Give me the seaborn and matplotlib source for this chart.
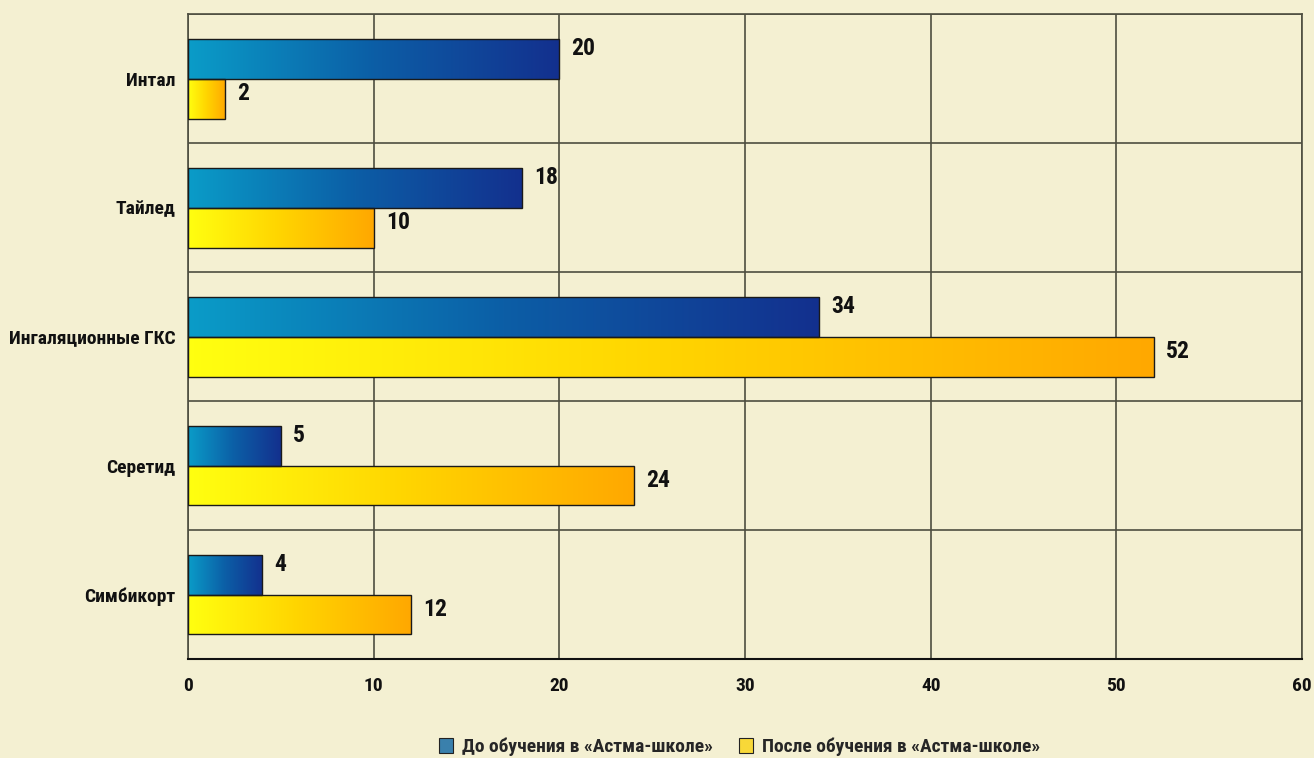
import numpy as np
import pandas as pd
import matplotlib
matplotlib.use("Agg")
import matplotlib.pyplot as plt
import matplotlib.transforms as mtransforms
from matplotlib import font_manager as fm
import seaborn as sns
from matplotlib.colors import LinearSegmentedColormap
from matplotlib.patches import Patch

categories = ["Интал", "Тайлед", "Ингаляционные ГКС", "Серетид", "Симбикорт"]
before = [20, 18, 34, 5, 4]
after = [2, 10, 52, 24, 12]
series_names = ["До обучения в «Астма-школе»", "После обучения в «Астма-школе»"]
x_ticks = [0, 10, 20, 30, 40, 50, 60]

BG = "#f4f0d2"
GRID = "#4e4e40"

# pick a condensed bold font if one is installed
cond_path = None
for pref in ["Liberation Sans Narrow", "Roboto Condensed", "DejaVu Sans"]:
    for f in fm.fontManager.ttflist:
        if f.name == pref and f.weight in ("bold", 700) and (
                "ondensed" in f.fname or "Narrow" in f.fname or "Condensed" in str(f.stretch) or f.stretch == "condensed"):
            cond_path = f.fname
            break
    if cond_path:
        break

def fp(size):
    if cond_path:
        return fm.FontProperties(fname=cond_path, size=size)
    return fm.FontProperties(family="DejaVu Sans", weight="bold", stretch="condensed", size=size)

sns.set_theme(style="white")
plt.rcParams["font.family"] = ["DejaVu Sans"]
plt.rcParams["font.weight"] = "bold"

df = pd.DataFrame({
    "cat": categories * 2,
    "val": before + after,
    "period": [series_names[0]] * len(categories) + [series_names[1]] * len(categories),
})

fig = plt.figure(figsize=(13.14, 7.58), dpi=100, facecolor=BG)
ax = fig.add_axes([0.1431, 0.1306, 0.9909 - 0.1431, 0.9815 - 0.1306])
ax.set_facecolor(BG)

sns.barplot(data=df, y="cat", x="val", hue="period", orient="h",
            width=0.62, gap=0, dodge=True, ax=ax, legend=False,
            palette=["#2f6fa8", "#f8d020"], edgecolor="#1a1a1a", linewidth=1.0,
            saturation=1)

cmaps = [
    LinearSegmentedColormap.from_list("blue", ["#0a9cc8", "#0c5ea6", "#13308e"]),
    LinearSegmentedColormap.from_list("yellow", ["#ffff10", "#ffd400", "#ffa800"]),
]
grad = np.linspace(0, 1, 256).reshape(1, -1)
offset = mtransforms.ScaledTranslation(12 / 100, 0, fig.dpi_scale_trans)
for ci, cont in enumerate(ax.containers):
    for bar in cont:
        x0, y0 = bar.get_x(), bar.get_y()
        w, h = bar.get_width(), bar.get_height()
        im = ax.imshow(grad, extent=[x0, x0 + w, y0 + h, y0], aspect="auto",
                       cmap=cmaps[ci], zorder=2, interpolation="bilinear")
        im.set_clip_path(bar)
        bar.set_facecolor("none")
        bar.set_zorder(3)
        ax.text(x0 + w, y0 + (-0.01 if ci == 0 else 0.03), f"{int(w)}",
                ha="left", va="top", fontproperties=fp(17),
                color="#111111", zorder=5, transform=ax.transData + offset)

ax.set_xlim(0, 60)
ax.set_ylim(len(categories) - 0.5, -0.5)
ax.set_xticks(x_ticks)
ax.set_xticklabels([str(v) for v in x_ticks])
ax.set_yticks(range(len(categories)))
ax.set_yticklabels(categories)
for lbl in ax.get_xticklabels() + ax.get_yticklabels():
    lbl.set_fontproperties(fp(14))
ax.set_yticks(np.arange(-0.5, len(categories), 1.0), minor=True)
ax.set_xlabel("")
ax.set_ylabel("")

ax.set_axisbelow(True)
ax.grid(axis="x", which="major", color=GRID, linewidth=1.2)
ax.grid(axis="y", which="minor", color=GRID, linewidth=1.2)
ax.grid(axis="y", which="major", visible=False)
ax.tick_params(axis="x", which="major", length=8, width=1.2, color=GRID, pad=5, labelcolor="#111111")
ax.tick_params(axis="y", which="both", length=0, pad=9, labelcolor="#111111")
for s in ax.spines.values():
    s.set_color(GRID)
    s.set_linewidth(1.2)
ax.spines["bottom"].set_color("#111111")
ax.spines["bottom"].set_linewidth(1.5)

handles = [Patch(facecolor="#3a80ac", edgecolor="#222222", linewidth=0.8),
           Patch(facecolor="#f8d838", edgecolor="#222222", linewidth=0.8)]
fig.legend(handles, series_names, loc="center", bbox_to_anchor=(0.563, 0.0145),
           ncol=2, frameon=False, prop=fp(14),
           handlelength=0.72, handleheight=0.8, handletextpad=0.46, columnspacing=1.35,
           borderpad=0)

fig.savefig("out.png", dpi=100, facecolor=BG)
